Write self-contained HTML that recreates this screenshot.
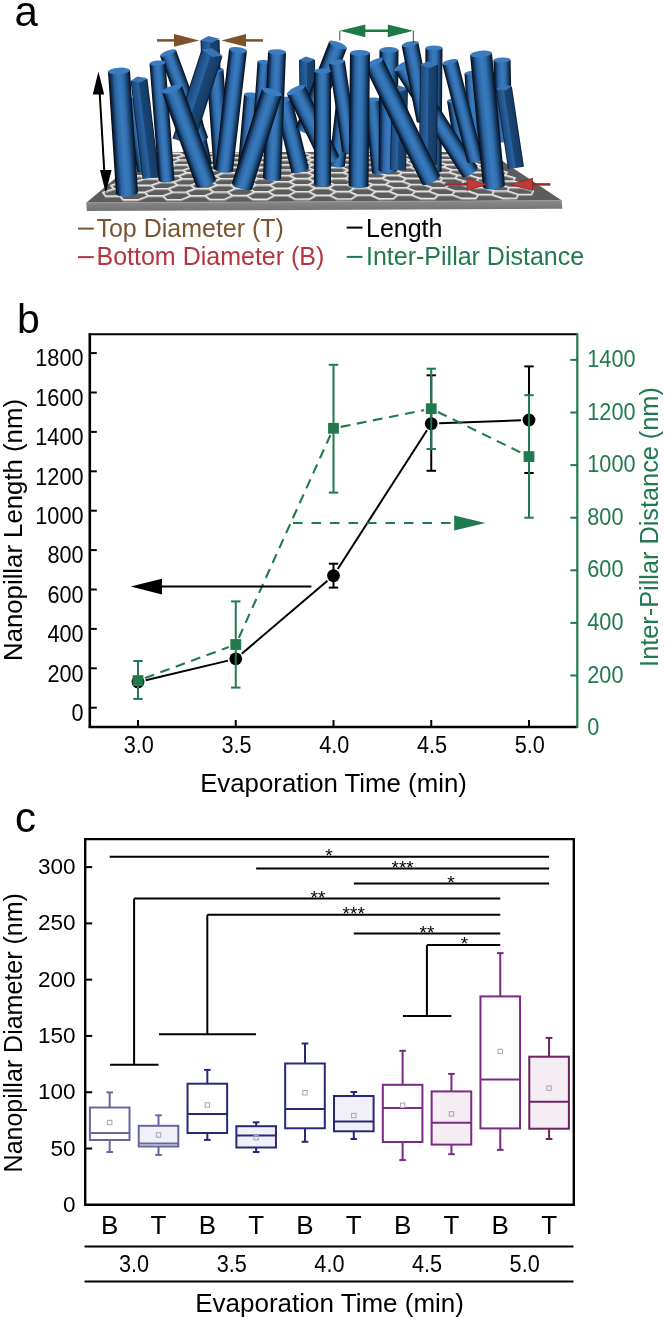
<!DOCTYPE html>
<html><head><meta charset="utf-8"><style>
html,body{margin:0;padding:0;background:#fff;}
svg{display:block;font-family:"Liberation Sans", sans-serif;will-change:transform;}
</style></head><body>
<svg width="666" height="1320" viewBox="0 0 666 1320">
<rect width="666" height="1320" fill="#fff"/>
<defs>
<linearGradient id="cyl" x1="0" y1="0" x2="1" y2="0">
 <stop offset="0" stop-color="#02060c"/>
 <stop offset="0.1" stop-color="#0e2a4a"/>
 <stop offset="0.26" stop-color="#2a63a1"/>
 <stop offset="0.48" stop-color="#3a7bbd"/>
 <stop offset="0.66" stop-color="#3170b0"/>
 <stop offset="0.83" stop-color="#1a4572"/>
 <stop offset="0.94" stop-color="#0b2038"/>
 <stop offset="1" stop-color="#050e1a"/>
</linearGradient>
<linearGradient id="prism" x1="0" y1="0" x2="1" y2="0">
 <stop offset="0" stop-color="#06101e"/>
 <stop offset="0.08" stop-color="#1b4a7e"/>
 <stop offset="0.45" stop-color="#2b64a2"/>
 <stop offset="0.5" stop-color="#1a4677"/>
 <stop offset="0.9" stop-color="#163c66"/>
 <stop offset="1" stop-color="#081a30"/>
</linearGradient>
<linearGradient id="front" x1="0" y1="0" x2="0" y2="1">
 <stop offset="0" stop-color="#8a8a8a"/>
 <stop offset="1" stop-color="#727272"/>
</linearGradient>
<pattern id="hex" patternUnits="userSpaceOnUse" width="30" height="10.4" patternTransform="translate(100,200)">
 <path d="M0,5.2 L5,0 L15,0 L20,5.2 L15,10.4 L5,10.4 Z M20,5.2 L30,5.2" fill="none" stroke="#d6d6d6" stroke-width="1.6"/>
</pattern>
</defs>
<clipPath id="platclip"><polygon points="86.3,202.8 561.8,200.6 489,152 146.5,152"/></clipPath>
<polygon points="86.3,202.8 561.8,200.6 489,152 146.5,152" fill="#5c5c5c"/>
<g clip-path="url(#platclip)"><path d="M102.9,192.3 L105.7,196.0 L120.0,196.0 L130.8,192.2 L127.5,188.7 L113.9,188.7Z M111.0,185.3 L113.9,188.7 L127.5,188.7 L137.8,185.2 L134.5,182.0 L121.4,182.0Z M118.5,178.9 L121.4,182.0 L134.5,182.0 L144.1,178.8 L140.9,175.8 L128.3,175.9Z M125.4,173.0 L128.3,175.9 L140.9,175.8 L150.0,172.9 L146.8,170.1 L134.7,170.1Z M131.7,167.5 L134.7,170.1 L146.8,170.1 L155.5,167.4 L152.2,164.8 L140.6,164.9Z M137.7,162.4 L140.6,164.9 L152.2,164.8 L160.5,162.3 L157.3,159.9 L146.1,159.9Z M143.2,157.6 L146.1,159.9 L157.3,159.9 L165.3,157.6 L162.1,155.3 L151.2,155.3Z M120.0,196.0 L123.3,199.8 L137.8,199.8 L148.4,195.8 L144.7,192.2 L130.8,192.2Z M127.5,188.7 L130.8,192.2 L144.7,192.2 L154.8,188.6 L151.1,185.2 L137.8,185.2Z M134.5,182.0 L137.8,185.2 L151.1,185.2 L160.6,181.9 L156.9,178.8 L144.1,178.8Z M140.9,175.8 L144.1,178.8 L156.9,178.8 L165.9,175.8 L162.3,172.9 L150.0,172.9Z M146.8,170.1 L150.0,172.9 L162.3,172.9 L170.9,170.1 L167.3,167.4 L155.5,167.4Z M152.2,164.8 L155.5,167.4 L167.3,167.4 L175.5,164.8 L171.9,162.3 L160.5,162.3Z M157.3,159.9 L160.5,162.3 L171.9,162.3 L179.7,159.9 L176.3,157.6 L165.3,157.6Z M162.1,155.3 L165.3,157.6 L176.3,157.6 L183.7,155.3 L180.3,153.2 L169.7,153.2Z M144.7,192.2 L148.4,195.8 L162.6,195.8 L172.4,192.1 L168.3,188.5 L154.8,188.6Z M151.1,185.2 L154.8,188.6 L168.3,188.5 L177.6,185.1 L173.6,181.9 L160.6,181.9Z M156.9,178.8 L160.6,181.9 L173.6,181.9 L182.4,178.7 L178.4,175.7 L165.9,175.8Z M162.3,172.9 L165.9,175.8 L178.4,175.7 L186.8,172.8 L182.9,170.1 L170.9,170.1Z M167.3,167.4 L170.9,170.1 L182.9,170.1 L190.9,167.4 L187.0,164.8 L175.5,164.8Z M171.9,162.3 L175.5,164.8 L187.0,164.8 L194.7,162.3 L190.9,159.9 L179.7,159.9Z M176.3,157.6 L179.7,159.9 L190.9,159.9 L198.2,157.6 L194.5,155.3 L183.7,155.3Z M162.6,195.8 L166.8,199.6 L181.2,199.6 L190.8,195.7 L186.2,192.0 L172.4,192.1Z M168.3,188.5 L172.4,192.1 L186.2,192.0 L195.3,188.5 L190.8,185.1 L177.6,185.1Z M173.6,181.9 L177.6,185.1 L190.8,185.1 L199.5,181.8 L195.1,178.7 L182.4,178.7Z M178.4,175.7 L182.4,178.7 L195.1,178.7 L203.3,175.7 L199.0,172.8 L186.8,172.8Z M182.9,170.1 L186.8,172.8 L199.0,172.8 L206.8,170.0 L202.6,167.4 L190.9,167.4Z M187.0,164.8 L190.9,167.4 L202.6,167.4 L210.1,164.8 L206.0,162.3 L194.7,162.3Z M190.9,159.9 L194.7,162.3 L206.0,162.3 L213.2,159.9 L209.2,157.6 L198.2,157.6Z M194.5,155.3 L198.2,157.6 L209.2,157.6 L216.0,155.3 L212.1,153.2 L201.5,153.2Z M186.2,192.0 L190.8,195.7 L204.9,195.6 L213.7,191.9 L208.8,188.4 L195.3,188.5Z M190.8,185.1 L195.3,188.5 L208.8,188.4 L217.2,185.0 L212.4,181.8 L199.5,181.8Z M195.1,178.7 L199.5,181.8 L212.4,181.8 L220.4,178.6 L215.7,175.7 L203.3,175.7Z M199.0,172.8 L203.3,175.7 L215.7,175.7 L223.3,172.8 L218.8,170.0 L206.8,170.0Z M202.6,167.4 L206.8,170.0 L218.8,170.0 L226.1,167.3 L221.6,164.8 L210.1,164.8Z M206.0,162.3 L210.1,164.8 L221.6,164.8 L228.6,162.3 L224.3,159.9 L213.2,159.9Z M209.2,157.6 L213.2,159.9 L224.3,159.9 L231.0,157.6 L226.7,155.3 L216.0,155.3Z M204.9,195.6 L210.0,199.4 L224.3,199.4 L232.9,195.5 L227.4,191.9 L213.7,191.9Z M208.8,188.4 L213.7,191.9 L227.4,191.9 L235.6,188.3 L230.3,185.0 L217.2,185.0Z M212.4,181.8 L217.2,185.0 L230.3,185.0 L238.1,181.7 L233.0,178.6 L220.4,178.6Z M215.7,175.7 L220.4,178.6 L233.0,178.6 L240.4,175.6 L235.5,172.7 L223.3,172.8Z M218.8,170.0 L223.3,172.8 L235.5,172.7 L242.6,170.0 L237.7,167.3 L226.1,167.3Z M221.6,164.8 L226.1,167.3 L237.7,167.3 L244.5,164.7 L239.9,162.3 L228.6,162.3Z M224.3,159.9 L228.6,162.3 L239.9,162.3 L246.4,159.9 L241.8,157.5 L231.0,157.6Z M226.7,155.3 L231.0,157.6 L241.8,157.5 L248.1,155.3 L243.7,153.1 L233.2,153.1Z M227.4,191.9 L232.9,195.5 L246.8,195.5 L254.7,191.8 L248.9,188.3 L235.6,188.3Z M230.3,185.0 L235.6,188.3 L248.9,188.3 L256.5,184.9 L250.9,181.7 L238.1,181.7Z M233.0,178.6 L238.1,181.7 L250.9,181.7 L258.1,178.6 L252.7,175.6 L240.4,175.6Z M235.5,172.7 L240.4,175.6 L252.7,175.6 L259.6,172.7 L254.4,169.9 L242.6,170.0Z M237.7,167.3 L242.6,170.0 L254.4,169.9 L261.0,167.3 L256.0,164.7 L244.5,164.7Z M239.9,162.3 L244.5,164.7 L256.0,164.7 L262.3,162.2 L257.4,159.8 L246.4,159.9Z M241.8,157.5 L246.4,159.9 L257.4,159.8 L263.5,157.5 L258.8,155.3 L248.1,155.3Z M246.8,195.5 L252.8,199.3 L267.0,199.2 L274.6,195.3 L268.3,191.7 L254.7,191.8Z M248.9,188.3 L254.7,191.8 L268.3,191.7 L275.6,188.2 L269.5,184.8 L256.5,184.9Z M250.9,181.7 L256.5,184.9 L269.5,184.8 L276.5,181.6 L270.6,178.5 L258.1,178.6Z M252.7,175.6 L258.1,178.6 L270.6,178.5 L277.3,175.5 L271.7,172.7 L259.6,172.7Z M254.4,169.9 L259.6,172.7 L271.7,172.7 L278.0,169.9 L272.6,167.3 L261.0,167.3Z M256.0,164.7 L261.0,167.3 L272.6,167.3 L278.7,164.7 L273.5,162.2 L262.3,162.2Z M257.4,159.8 L262.3,162.2 L273.5,162.2 L279.4,159.8 L274.3,157.5 L263.5,157.5Z M258.8,155.3 L263.5,157.5 L274.3,157.5 L280.0,155.3 L275.1,153.1 L264.6,153.1Z M268.3,191.7 L274.6,195.3 L288.4,195.3 L295.4,191.6 L288.8,188.1 L275.6,188.2Z M269.5,184.8 L275.6,188.2 L288.8,188.1 L295.5,184.8 L289.2,181.6 L276.5,181.6Z M270.6,178.5 L276.5,181.6 L289.2,181.6 L295.6,178.5 L289.5,175.5 L277.3,175.5Z M271.7,172.7 L277.3,175.5 L289.5,175.5 L295.7,172.6 L289.8,169.9 L278.0,169.9Z M272.6,167.3 L278.0,169.9 L289.8,169.9 L295.7,167.2 L290.1,164.7 L278.7,164.7Z M273.5,162.2 L278.7,164.7 L290.1,164.7 L295.8,162.2 L290.4,159.8 L279.4,159.8Z M274.3,157.5 L279.4,159.8 L290.4,159.8 L295.9,157.5 L290.6,155.3 L280.0,155.3Z M288.4,195.3 L295.3,199.1 L309.4,199.0 L316.0,195.2 L308.9,191.6 L295.4,191.6Z M288.8,188.1 L295.4,191.6 L308.9,191.6 L315.2,188.0 L308.4,184.7 L295.5,184.8Z M289.2,181.6 L295.5,184.8 L308.4,184.7 L314.5,181.5 L308.0,178.4 L295.6,178.5Z M289.5,175.5 L295.6,178.5 L308.0,178.4 L313.9,175.4 L307.6,172.6 L295.7,172.6Z M289.8,169.9 L295.7,172.6 L307.6,172.6 L313.3,169.8 L307.3,167.2 L295.7,167.2Z M290.1,164.7 L295.7,167.2 L307.3,167.2 L312.7,164.6 L306.9,162.2 L295.8,162.2Z M290.4,159.8 L295.8,162.2 L306.9,162.2 L312.2,159.8 L306.6,157.5 L295.9,157.5Z M290.6,155.3 L295.9,157.5 L306.6,157.5 L311.7,155.3 L306.3,153.1 L295.9,153.1Z M308.9,191.6 L316.0,195.2 L329.7,195.1 L335.8,191.5 L328.4,188.0 L315.2,188.0Z M308.4,184.7 L315.2,188.0 L328.4,188.0 L334.2,184.6 L327.2,181.5 L314.5,181.5Z M308.0,178.4 L314.5,181.5 L327.2,181.5 L332.8,178.4 L326.0,175.4 L313.9,175.4Z M307.6,172.6 L313.9,175.4 L326.0,175.4 L331.5,172.6 L325.0,169.8 L313.3,169.8Z M307.3,167.2 L313.3,169.8 L325.0,169.8 L330.2,167.2 L324.0,164.6 L312.7,164.6Z M306.9,162.2 L312.7,164.6 L324.0,164.6 L329.1,162.2 L323.1,159.8 L312.2,159.8Z M306.6,157.5 L312.2,159.8 L323.1,159.8 L328.0,157.5 L322.3,155.3 L311.7,155.3Z M329.7,195.1 L337.4,198.9 L351.4,198.8 L357.1,195.0 L349.2,191.4 L335.8,191.5Z M328.4,188.0 L335.8,191.5 L349.2,191.4 L354.6,187.9 L347.1,184.6 L334.2,184.6Z M327.2,181.5 L334.2,184.6 L347.1,184.6 L352.4,181.4 L345.1,178.3 L332.8,178.4Z M326.0,175.4 L332.8,178.4 L345.1,178.3 L350.3,175.4 L343.3,172.5 L331.5,172.6Z M325.0,169.8 L331.5,172.6 L343.3,172.5 L348.3,169.8 L341.7,167.2 L330.2,167.2Z M324.0,164.6 L330.2,167.2 L341.7,167.2 L346.5,164.6 L340.2,162.2 L329.1,162.2Z M323.1,159.8 L329.1,162.2 L340.2,162.2 L344.8,159.8 L338.7,157.5 L328.0,157.5Z M322.3,155.3 L328.0,157.5 L338.7,157.5 L343.3,155.3 L337.4,153.1 L327.1,153.1Z M349.2,191.4 L357.1,195.0 L370.7,195.0 L375.8,191.3 L367.7,187.9 L354.6,187.9Z M347.1,184.6 L354.6,187.9 L367.7,187.9 L372.7,184.5 L364.9,181.4 L352.4,181.4Z M345.1,178.3 L352.4,181.4 L364.9,181.4 L369.7,178.3 L362.3,175.3 L350.3,175.4Z M343.3,172.5 L350.3,175.4 L362.3,175.3 L367.0,172.5 L360.0,169.8 L348.3,169.8Z M341.7,167.2 L348.3,169.8 L360.0,169.8 L364.5,167.1 L357.7,164.6 L346.5,164.6Z M340.2,162.2 L346.5,164.6 L357.7,164.6 L362.2,162.1 L355.7,159.8 L344.8,159.8Z M338.7,157.5 L344.8,159.8 L355.7,159.8 L360.0,157.5 L353.8,155.3 L343.3,155.3Z M370.7,195.0 L379.3,198.7 L393.2,198.6 L397.9,194.8 L389.1,191.3 L375.8,191.3Z M367.7,187.9 L375.8,191.3 L389.1,191.3 L393.7,187.8 L385.4,184.5 L372.7,184.5Z M364.9,181.4 L372.7,184.5 L385.4,184.5 L389.9,181.3 L382.0,178.2 L369.7,178.3Z M362.3,175.3 L369.7,178.3 L382.0,178.2 L386.4,175.3 L378.8,172.5 L367.0,172.5Z M360.0,169.8 L367.0,172.5 L378.8,172.5 L383.1,169.7 L375.9,167.1 L364.5,167.1Z M357.7,164.6 L364.5,167.1 L375.9,167.1 L380.1,164.6 L373.2,162.1 L362.2,162.1Z M355.7,159.8 L362.2,162.1 L373.2,162.1 L377.3,159.8 L370.6,157.5 L360.0,157.5Z M353.8,155.3 L360.0,157.5 L370.6,157.5 L374.6,155.3 L368.3,153.1 L358.0,153.1Z M389.1,191.3 L397.9,194.8 L411.4,194.8 L415.6,191.2 L406.7,187.7 L393.7,187.8Z M385.4,184.5 L393.7,187.8 L406.7,187.7 L410.8,184.4 L402.4,181.3 L389.9,181.3Z M382.0,178.2 L389.9,181.3 L402.4,181.3 L406.4,178.2 L398.4,175.3 L386.4,175.3Z M378.8,172.5 L386.4,175.3 L398.4,175.3 L402.4,172.4 L394.7,169.7 L383.1,169.7Z M375.9,167.1 L383.1,169.7 L394.7,169.7 L398.6,167.1 L391.2,164.6 L380.1,164.6Z M373.2,162.1 L380.1,164.6 L391.2,164.6 L395.1,162.1 L388.0,159.8 L377.3,159.8Z M370.6,157.5 L377.3,159.8 L388.0,159.8 L391.8,157.5 L385.0,155.3 L374.6,155.3Z M411.4,194.8 L420.8,198.5 L434.6,198.5 L438.3,194.7 L428.8,191.1 L415.6,191.2Z M406.7,187.7 L415.6,191.2 L428.8,191.1 L432.5,187.7 L423.5,184.4 L410.8,184.4Z M402.4,181.3 L410.8,184.4 L423.5,184.4 L427.2,181.2 L418.6,178.2 L406.4,178.2Z M398.4,175.3 L406.4,178.2 L418.6,178.2 L422.3,175.2 L414.1,172.4 L402.4,172.4Z M394.7,169.7 L402.4,172.4 L414.1,172.4 L417.7,169.7 L409.9,167.1 L398.6,167.1Z M391.2,164.6 L398.6,167.1 L409.9,167.1 L413.5,164.5 L406.0,162.1 L395.1,162.1Z M388.0,159.8 L395.1,162.1 L406.0,162.1 L409.5,159.7 L402.4,157.5 L391.8,157.5Z M385.0,155.3 L391.8,157.5 L402.4,157.5 L405.8,155.3 L399.0,153.1 L388.7,153.1Z M428.8,191.1 L438.3,194.7 L451.8,194.6 L455.1,191.0 L445.4,187.6 L432.5,187.7Z M423.5,184.4 L432.5,187.7 L445.4,187.6 L448.7,184.3 L439.6,181.2 L427.2,181.2Z M418.6,178.2 L427.2,181.2 L439.6,181.2 L442.9,178.1 L434.2,175.2 L422.3,175.2Z M414.1,172.4 L422.3,175.2 L434.2,175.2 L437.5,172.4 L429.2,169.7 L417.7,169.7Z M409.9,167.1 L417.7,169.7 L429.2,169.7 L432.4,167.0 L424.5,164.5 L413.5,164.5Z M406.0,162.1 L413.5,164.5 L424.5,164.5 L427.8,162.1 L420.2,159.7 L409.5,159.7Z M402.4,157.5 L409.5,159.7 L420.2,159.7 L423.4,157.5 L416.2,155.3 L405.8,155.3Z M451.8,194.6 L462.0,198.3 L475.6,198.3 L478.5,194.5 L468.2,191.0 L455.1,191.0Z M445.4,187.6 L455.1,191.0 L468.2,191.0 L471.1,187.5 L461.3,184.3 L448.7,184.3Z M439.6,181.2 L448.7,184.3 L461.3,184.3 L464.2,181.1 L455.0,178.1 L442.9,178.1Z M434.2,175.2 L442.9,178.1 L455.0,178.1 L457.9,175.1 L449.1,172.3 L437.5,172.4Z M429.2,169.7 L437.5,172.4 L449.1,172.3 L452.1,169.6 L443.7,167.0 L432.4,167.0Z M424.5,164.5 L432.4,167.0 L443.7,167.0 L446.6,164.5 L438.6,162.1 L427.8,162.1Z M420.2,159.7 L427.8,162.1 L438.6,162.1 L441.5,159.7 L433.9,157.4 L423.4,157.5Z M416.2,155.3 L423.4,157.5 L433.9,157.4 L436.8,155.3 L429.5,153.1 L419.3,153.1Z M468.2,191.0 L478.5,194.5 L491.8,194.5 L494.3,190.9 L483.9,187.5 L471.1,187.5Z M461.3,184.3 L471.1,187.5 L483.9,187.5 L486.4,184.2 L476.5,181.1 L464.2,181.1Z M455.0,178.1 L464.2,181.1 L476.5,181.1 L479.1,178.0 L469.7,175.1 L457.9,175.1Z M449.1,172.3 L457.9,175.1 L469.7,175.1 L472.3,172.3 L463.5,169.6 L452.1,169.6Z M443.7,167.0 L452.1,169.6 L463.5,169.6 L466.1,167.0 L457.6,164.5 L446.6,164.5Z M438.6,162.1 L446.6,164.5 L457.6,164.5 L460.2,162.0 L452.2,159.7 L441.5,159.7Z M433.9,157.4 L441.5,159.7 L452.2,159.7 L454.8,157.4 L447.1,155.2 L436.8,155.3Z M491.8,194.5 L502.9,198.2 L516.4,198.1 L518.4,194.4 L507.3,190.8 L494.3,190.9Z M483.9,187.5 L494.3,190.9 L507.3,190.8 L509.3,187.4 L498.9,184.1 L486.4,184.2Z M476.5,181.1 L486.4,184.2 L498.9,184.1 L501.0,181.0 L491.1,178.0 L479.1,178.0Z M469.7,175.1 L479.1,178.0 L491.1,178.0 L493.3,175.1 L483.9,172.3 L472.3,172.3Z M463.5,169.6 L472.3,172.3 L483.9,172.3 L486.2,169.6 L477.2,167.0 L466.1,167.0Z M457.6,164.5 L466.1,167.0 L477.2,167.0 L479.6,164.5 L471.0,162.0 L460.2,162.0Z M452.2,159.7 L460.2,162.0 L471.0,162.0 L473.4,159.7 L465.2,157.4 L454.8,157.4Z M447.1,155.2 L454.8,157.4 L465.2,157.4 L467.6,155.2 L459.8,153.1 L449.7,153.1Z M507.3,190.8 L518.4,194.4 L531.6,194.3 L533.2,190.7 L522.0,187.4 L509.3,187.4Z M498.9,184.1 L509.3,187.4 L522.0,187.4 L523.7,184.1 L513.2,181.0 L501.0,181.0Z M491.1,178.0 L501.0,181.0 L513.2,181.0 L515.0,177.9 L505.1,175.0 L493.3,175.1Z M483.9,172.3 L493.3,175.1 L505.1,175.0 L507.0,172.2 L497.5,169.5 L486.2,169.6Z M477.2,167.0 L486.2,169.6 L497.5,169.5 L499.5,166.9 L490.5,164.4 L479.6,164.5Z M471.0,162.0 L479.6,164.5 L490.5,164.4 L492.5,162.0 L483.9,159.7 L473.4,159.7Z M465.2,157.4 L473.4,159.7 L483.9,159.7 L486.0,157.4 L477.8,155.2 L467.6,155.2Z" fill="none" stroke="#9a9a9a" stroke-width="1.7" transform="translate(0,0.9)"/><path d="M102.9,192.3 L105.7,196.0 L120.0,196.0 L130.8,192.2 L127.5,188.7 L113.9,188.7Z M111.0,185.3 L113.9,188.7 L127.5,188.7 L137.8,185.2 L134.5,182.0 L121.4,182.0Z M118.5,178.9 L121.4,182.0 L134.5,182.0 L144.1,178.8 L140.9,175.8 L128.3,175.9Z M125.4,173.0 L128.3,175.9 L140.9,175.8 L150.0,172.9 L146.8,170.1 L134.7,170.1Z M131.7,167.5 L134.7,170.1 L146.8,170.1 L155.5,167.4 L152.2,164.8 L140.6,164.9Z M137.7,162.4 L140.6,164.9 L152.2,164.8 L160.5,162.3 L157.3,159.9 L146.1,159.9Z M143.2,157.6 L146.1,159.9 L157.3,159.9 L165.3,157.6 L162.1,155.3 L151.2,155.3Z M120.0,196.0 L123.3,199.8 L137.8,199.8 L148.4,195.8 L144.7,192.2 L130.8,192.2Z M127.5,188.7 L130.8,192.2 L144.7,192.2 L154.8,188.6 L151.1,185.2 L137.8,185.2Z M134.5,182.0 L137.8,185.2 L151.1,185.2 L160.6,181.9 L156.9,178.8 L144.1,178.8Z M140.9,175.8 L144.1,178.8 L156.9,178.8 L165.9,175.8 L162.3,172.9 L150.0,172.9Z M146.8,170.1 L150.0,172.9 L162.3,172.9 L170.9,170.1 L167.3,167.4 L155.5,167.4Z M152.2,164.8 L155.5,167.4 L167.3,167.4 L175.5,164.8 L171.9,162.3 L160.5,162.3Z M157.3,159.9 L160.5,162.3 L171.9,162.3 L179.7,159.9 L176.3,157.6 L165.3,157.6Z M162.1,155.3 L165.3,157.6 L176.3,157.6 L183.7,155.3 L180.3,153.2 L169.7,153.2Z M144.7,192.2 L148.4,195.8 L162.6,195.8 L172.4,192.1 L168.3,188.5 L154.8,188.6Z M151.1,185.2 L154.8,188.6 L168.3,188.5 L177.6,185.1 L173.6,181.9 L160.6,181.9Z M156.9,178.8 L160.6,181.9 L173.6,181.9 L182.4,178.7 L178.4,175.7 L165.9,175.8Z M162.3,172.9 L165.9,175.8 L178.4,175.7 L186.8,172.8 L182.9,170.1 L170.9,170.1Z M167.3,167.4 L170.9,170.1 L182.9,170.1 L190.9,167.4 L187.0,164.8 L175.5,164.8Z M171.9,162.3 L175.5,164.8 L187.0,164.8 L194.7,162.3 L190.9,159.9 L179.7,159.9Z M176.3,157.6 L179.7,159.9 L190.9,159.9 L198.2,157.6 L194.5,155.3 L183.7,155.3Z M162.6,195.8 L166.8,199.6 L181.2,199.6 L190.8,195.7 L186.2,192.0 L172.4,192.1Z M168.3,188.5 L172.4,192.1 L186.2,192.0 L195.3,188.5 L190.8,185.1 L177.6,185.1Z M173.6,181.9 L177.6,185.1 L190.8,185.1 L199.5,181.8 L195.1,178.7 L182.4,178.7Z M178.4,175.7 L182.4,178.7 L195.1,178.7 L203.3,175.7 L199.0,172.8 L186.8,172.8Z M182.9,170.1 L186.8,172.8 L199.0,172.8 L206.8,170.0 L202.6,167.4 L190.9,167.4Z M187.0,164.8 L190.9,167.4 L202.6,167.4 L210.1,164.8 L206.0,162.3 L194.7,162.3Z M190.9,159.9 L194.7,162.3 L206.0,162.3 L213.2,159.9 L209.2,157.6 L198.2,157.6Z M194.5,155.3 L198.2,157.6 L209.2,157.6 L216.0,155.3 L212.1,153.2 L201.5,153.2Z M186.2,192.0 L190.8,195.7 L204.9,195.6 L213.7,191.9 L208.8,188.4 L195.3,188.5Z M190.8,185.1 L195.3,188.5 L208.8,188.4 L217.2,185.0 L212.4,181.8 L199.5,181.8Z M195.1,178.7 L199.5,181.8 L212.4,181.8 L220.4,178.6 L215.7,175.7 L203.3,175.7Z M199.0,172.8 L203.3,175.7 L215.7,175.7 L223.3,172.8 L218.8,170.0 L206.8,170.0Z M202.6,167.4 L206.8,170.0 L218.8,170.0 L226.1,167.3 L221.6,164.8 L210.1,164.8Z M206.0,162.3 L210.1,164.8 L221.6,164.8 L228.6,162.3 L224.3,159.9 L213.2,159.9Z M209.2,157.6 L213.2,159.9 L224.3,159.9 L231.0,157.6 L226.7,155.3 L216.0,155.3Z M204.9,195.6 L210.0,199.4 L224.3,199.4 L232.9,195.5 L227.4,191.9 L213.7,191.9Z M208.8,188.4 L213.7,191.9 L227.4,191.9 L235.6,188.3 L230.3,185.0 L217.2,185.0Z M212.4,181.8 L217.2,185.0 L230.3,185.0 L238.1,181.7 L233.0,178.6 L220.4,178.6Z M215.7,175.7 L220.4,178.6 L233.0,178.6 L240.4,175.6 L235.5,172.7 L223.3,172.8Z M218.8,170.0 L223.3,172.8 L235.5,172.7 L242.6,170.0 L237.7,167.3 L226.1,167.3Z M221.6,164.8 L226.1,167.3 L237.7,167.3 L244.5,164.7 L239.9,162.3 L228.6,162.3Z M224.3,159.9 L228.6,162.3 L239.9,162.3 L246.4,159.9 L241.8,157.5 L231.0,157.6Z M226.7,155.3 L231.0,157.6 L241.8,157.5 L248.1,155.3 L243.7,153.1 L233.2,153.1Z M227.4,191.9 L232.9,195.5 L246.8,195.5 L254.7,191.8 L248.9,188.3 L235.6,188.3Z M230.3,185.0 L235.6,188.3 L248.9,188.3 L256.5,184.9 L250.9,181.7 L238.1,181.7Z M233.0,178.6 L238.1,181.7 L250.9,181.7 L258.1,178.6 L252.7,175.6 L240.4,175.6Z M235.5,172.7 L240.4,175.6 L252.7,175.6 L259.6,172.7 L254.4,169.9 L242.6,170.0Z M237.7,167.3 L242.6,170.0 L254.4,169.9 L261.0,167.3 L256.0,164.7 L244.5,164.7Z M239.9,162.3 L244.5,164.7 L256.0,164.7 L262.3,162.2 L257.4,159.8 L246.4,159.9Z M241.8,157.5 L246.4,159.9 L257.4,159.8 L263.5,157.5 L258.8,155.3 L248.1,155.3Z M246.8,195.5 L252.8,199.3 L267.0,199.2 L274.6,195.3 L268.3,191.7 L254.7,191.8Z M248.9,188.3 L254.7,191.8 L268.3,191.7 L275.6,188.2 L269.5,184.8 L256.5,184.9Z M250.9,181.7 L256.5,184.9 L269.5,184.8 L276.5,181.6 L270.6,178.5 L258.1,178.6Z M252.7,175.6 L258.1,178.6 L270.6,178.5 L277.3,175.5 L271.7,172.7 L259.6,172.7Z M254.4,169.9 L259.6,172.7 L271.7,172.7 L278.0,169.9 L272.6,167.3 L261.0,167.3Z M256.0,164.7 L261.0,167.3 L272.6,167.3 L278.7,164.7 L273.5,162.2 L262.3,162.2Z M257.4,159.8 L262.3,162.2 L273.5,162.2 L279.4,159.8 L274.3,157.5 L263.5,157.5Z M258.8,155.3 L263.5,157.5 L274.3,157.5 L280.0,155.3 L275.1,153.1 L264.6,153.1Z M268.3,191.7 L274.6,195.3 L288.4,195.3 L295.4,191.6 L288.8,188.1 L275.6,188.2Z M269.5,184.8 L275.6,188.2 L288.8,188.1 L295.5,184.8 L289.2,181.6 L276.5,181.6Z M270.6,178.5 L276.5,181.6 L289.2,181.6 L295.6,178.5 L289.5,175.5 L277.3,175.5Z M271.7,172.7 L277.3,175.5 L289.5,175.5 L295.7,172.6 L289.8,169.9 L278.0,169.9Z M272.6,167.3 L278.0,169.9 L289.8,169.9 L295.7,167.2 L290.1,164.7 L278.7,164.7Z M273.5,162.2 L278.7,164.7 L290.1,164.7 L295.8,162.2 L290.4,159.8 L279.4,159.8Z M274.3,157.5 L279.4,159.8 L290.4,159.8 L295.9,157.5 L290.6,155.3 L280.0,155.3Z M288.4,195.3 L295.3,199.1 L309.4,199.0 L316.0,195.2 L308.9,191.6 L295.4,191.6Z M288.8,188.1 L295.4,191.6 L308.9,191.6 L315.2,188.0 L308.4,184.7 L295.5,184.8Z M289.2,181.6 L295.5,184.8 L308.4,184.7 L314.5,181.5 L308.0,178.4 L295.6,178.5Z M289.5,175.5 L295.6,178.5 L308.0,178.4 L313.9,175.4 L307.6,172.6 L295.7,172.6Z M289.8,169.9 L295.7,172.6 L307.6,172.6 L313.3,169.8 L307.3,167.2 L295.7,167.2Z M290.1,164.7 L295.7,167.2 L307.3,167.2 L312.7,164.6 L306.9,162.2 L295.8,162.2Z M290.4,159.8 L295.8,162.2 L306.9,162.2 L312.2,159.8 L306.6,157.5 L295.9,157.5Z M290.6,155.3 L295.9,157.5 L306.6,157.5 L311.7,155.3 L306.3,153.1 L295.9,153.1Z M308.9,191.6 L316.0,195.2 L329.7,195.1 L335.8,191.5 L328.4,188.0 L315.2,188.0Z M308.4,184.7 L315.2,188.0 L328.4,188.0 L334.2,184.6 L327.2,181.5 L314.5,181.5Z M308.0,178.4 L314.5,181.5 L327.2,181.5 L332.8,178.4 L326.0,175.4 L313.9,175.4Z M307.6,172.6 L313.9,175.4 L326.0,175.4 L331.5,172.6 L325.0,169.8 L313.3,169.8Z M307.3,167.2 L313.3,169.8 L325.0,169.8 L330.2,167.2 L324.0,164.6 L312.7,164.6Z M306.9,162.2 L312.7,164.6 L324.0,164.6 L329.1,162.2 L323.1,159.8 L312.2,159.8Z M306.6,157.5 L312.2,159.8 L323.1,159.8 L328.0,157.5 L322.3,155.3 L311.7,155.3Z M329.7,195.1 L337.4,198.9 L351.4,198.8 L357.1,195.0 L349.2,191.4 L335.8,191.5Z M328.4,188.0 L335.8,191.5 L349.2,191.4 L354.6,187.9 L347.1,184.6 L334.2,184.6Z M327.2,181.5 L334.2,184.6 L347.1,184.6 L352.4,181.4 L345.1,178.3 L332.8,178.4Z M326.0,175.4 L332.8,178.4 L345.1,178.3 L350.3,175.4 L343.3,172.5 L331.5,172.6Z M325.0,169.8 L331.5,172.6 L343.3,172.5 L348.3,169.8 L341.7,167.2 L330.2,167.2Z M324.0,164.6 L330.2,167.2 L341.7,167.2 L346.5,164.6 L340.2,162.2 L329.1,162.2Z M323.1,159.8 L329.1,162.2 L340.2,162.2 L344.8,159.8 L338.7,157.5 L328.0,157.5Z M322.3,155.3 L328.0,157.5 L338.7,157.5 L343.3,155.3 L337.4,153.1 L327.1,153.1Z M349.2,191.4 L357.1,195.0 L370.7,195.0 L375.8,191.3 L367.7,187.9 L354.6,187.9Z M347.1,184.6 L354.6,187.9 L367.7,187.9 L372.7,184.5 L364.9,181.4 L352.4,181.4Z M345.1,178.3 L352.4,181.4 L364.9,181.4 L369.7,178.3 L362.3,175.3 L350.3,175.4Z M343.3,172.5 L350.3,175.4 L362.3,175.3 L367.0,172.5 L360.0,169.8 L348.3,169.8Z M341.7,167.2 L348.3,169.8 L360.0,169.8 L364.5,167.1 L357.7,164.6 L346.5,164.6Z M340.2,162.2 L346.5,164.6 L357.7,164.6 L362.2,162.1 L355.7,159.8 L344.8,159.8Z M338.7,157.5 L344.8,159.8 L355.7,159.8 L360.0,157.5 L353.8,155.3 L343.3,155.3Z M370.7,195.0 L379.3,198.7 L393.2,198.6 L397.9,194.8 L389.1,191.3 L375.8,191.3Z M367.7,187.9 L375.8,191.3 L389.1,191.3 L393.7,187.8 L385.4,184.5 L372.7,184.5Z M364.9,181.4 L372.7,184.5 L385.4,184.5 L389.9,181.3 L382.0,178.2 L369.7,178.3Z M362.3,175.3 L369.7,178.3 L382.0,178.2 L386.4,175.3 L378.8,172.5 L367.0,172.5Z M360.0,169.8 L367.0,172.5 L378.8,172.5 L383.1,169.7 L375.9,167.1 L364.5,167.1Z M357.7,164.6 L364.5,167.1 L375.9,167.1 L380.1,164.6 L373.2,162.1 L362.2,162.1Z M355.7,159.8 L362.2,162.1 L373.2,162.1 L377.3,159.8 L370.6,157.5 L360.0,157.5Z M353.8,155.3 L360.0,157.5 L370.6,157.5 L374.6,155.3 L368.3,153.1 L358.0,153.1Z M389.1,191.3 L397.9,194.8 L411.4,194.8 L415.6,191.2 L406.7,187.7 L393.7,187.8Z M385.4,184.5 L393.7,187.8 L406.7,187.7 L410.8,184.4 L402.4,181.3 L389.9,181.3Z M382.0,178.2 L389.9,181.3 L402.4,181.3 L406.4,178.2 L398.4,175.3 L386.4,175.3Z M378.8,172.5 L386.4,175.3 L398.4,175.3 L402.4,172.4 L394.7,169.7 L383.1,169.7Z M375.9,167.1 L383.1,169.7 L394.7,169.7 L398.6,167.1 L391.2,164.6 L380.1,164.6Z M373.2,162.1 L380.1,164.6 L391.2,164.6 L395.1,162.1 L388.0,159.8 L377.3,159.8Z M370.6,157.5 L377.3,159.8 L388.0,159.8 L391.8,157.5 L385.0,155.3 L374.6,155.3Z M411.4,194.8 L420.8,198.5 L434.6,198.5 L438.3,194.7 L428.8,191.1 L415.6,191.2Z M406.7,187.7 L415.6,191.2 L428.8,191.1 L432.5,187.7 L423.5,184.4 L410.8,184.4Z M402.4,181.3 L410.8,184.4 L423.5,184.4 L427.2,181.2 L418.6,178.2 L406.4,178.2Z M398.4,175.3 L406.4,178.2 L418.6,178.2 L422.3,175.2 L414.1,172.4 L402.4,172.4Z M394.7,169.7 L402.4,172.4 L414.1,172.4 L417.7,169.7 L409.9,167.1 L398.6,167.1Z M391.2,164.6 L398.6,167.1 L409.9,167.1 L413.5,164.5 L406.0,162.1 L395.1,162.1Z M388.0,159.8 L395.1,162.1 L406.0,162.1 L409.5,159.7 L402.4,157.5 L391.8,157.5Z M385.0,155.3 L391.8,157.5 L402.4,157.5 L405.8,155.3 L399.0,153.1 L388.7,153.1Z M428.8,191.1 L438.3,194.7 L451.8,194.6 L455.1,191.0 L445.4,187.6 L432.5,187.7Z M423.5,184.4 L432.5,187.7 L445.4,187.6 L448.7,184.3 L439.6,181.2 L427.2,181.2Z M418.6,178.2 L427.2,181.2 L439.6,181.2 L442.9,178.1 L434.2,175.2 L422.3,175.2Z M414.1,172.4 L422.3,175.2 L434.2,175.2 L437.5,172.4 L429.2,169.7 L417.7,169.7Z M409.9,167.1 L417.7,169.7 L429.2,169.7 L432.4,167.0 L424.5,164.5 L413.5,164.5Z M406.0,162.1 L413.5,164.5 L424.5,164.5 L427.8,162.1 L420.2,159.7 L409.5,159.7Z M402.4,157.5 L409.5,159.7 L420.2,159.7 L423.4,157.5 L416.2,155.3 L405.8,155.3Z M451.8,194.6 L462.0,198.3 L475.6,198.3 L478.5,194.5 L468.2,191.0 L455.1,191.0Z M445.4,187.6 L455.1,191.0 L468.2,191.0 L471.1,187.5 L461.3,184.3 L448.7,184.3Z M439.6,181.2 L448.7,184.3 L461.3,184.3 L464.2,181.1 L455.0,178.1 L442.9,178.1Z M434.2,175.2 L442.9,178.1 L455.0,178.1 L457.9,175.1 L449.1,172.3 L437.5,172.4Z M429.2,169.7 L437.5,172.4 L449.1,172.3 L452.1,169.6 L443.7,167.0 L432.4,167.0Z M424.5,164.5 L432.4,167.0 L443.7,167.0 L446.6,164.5 L438.6,162.1 L427.8,162.1Z M420.2,159.7 L427.8,162.1 L438.6,162.1 L441.5,159.7 L433.9,157.4 L423.4,157.5Z M416.2,155.3 L423.4,157.5 L433.9,157.4 L436.8,155.3 L429.5,153.1 L419.3,153.1Z M468.2,191.0 L478.5,194.5 L491.8,194.5 L494.3,190.9 L483.9,187.5 L471.1,187.5Z M461.3,184.3 L471.1,187.5 L483.9,187.5 L486.4,184.2 L476.5,181.1 L464.2,181.1Z M455.0,178.1 L464.2,181.1 L476.5,181.1 L479.1,178.0 L469.7,175.1 L457.9,175.1Z M449.1,172.3 L457.9,175.1 L469.7,175.1 L472.3,172.3 L463.5,169.6 L452.1,169.6Z M443.7,167.0 L452.1,169.6 L463.5,169.6 L466.1,167.0 L457.6,164.5 L446.6,164.5Z M438.6,162.1 L446.6,164.5 L457.6,164.5 L460.2,162.0 L452.2,159.7 L441.5,159.7Z M433.9,157.4 L441.5,159.7 L452.2,159.7 L454.8,157.4 L447.1,155.2 L436.8,155.3Z M491.8,194.5 L502.9,198.2 L516.4,198.1 L518.4,194.4 L507.3,190.8 L494.3,190.9Z M483.9,187.5 L494.3,190.9 L507.3,190.8 L509.3,187.4 L498.9,184.1 L486.4,184.2Z M476.5,181.1 L486.4,184.2 L498.9,184.1 L501.0,181.0 L491.1,178.0 L479.1,178.0Z M469.7,175.1 L479.1,178.0 L491.1,178.0 L493.3,175.1 L483.9,172.3 L472.3,172.3Z M463.5,169.6 L472.3,172.3 L483.9,172.3 L486.2,169.6 L477.2,167.0 L466.1,167.0Z M457.6,164.5 L466.1,167.0 L477.2,167.0 L479.6,164.5 L471.0,162.0 L460.2,162.0Z M452.2,159.7 L460.2,162.0 L471.0,162.0 L473.4,159.7 L465.2,157.4 L454.8,157.4Z M447.1,155.2 L454.8,157.4 L465.2,157.4 L467.6,155.2 L459.8,153.1 L449.7,153.1Z M507.3,190.8 L518.4,194.4 L531.6,194.3 L533.2,190.7 L522.0,187.4 L509.3,187.4Z M498.9,184.1 L509.3,187.4 L522.0,187.4 L523.7,184.1 L513.2,181.0 L501.0,181.0Z M491.1,178.0 L501.0,181.0 L513.2,181.0 L515.0,177.9 L505.1,175.0 L493.3,175.1Z M483.9,172.3 L493.3,175.1 L505.1,175.0 L507.0,172.2 L497.5,169.5 L486.2,169.6Z M477.2,167.0 L486.2,169.6 L497.5,169.5 L499.5,166.9 L490.5,164.4 L479.6,164.5Z M471.0,162.0 L479.6,164.5 L490.5,164.4 L492.5,162.0 L483.9,159.7 L473.4,159.7Z M465.2,157.4 L473.4,159.7 L483.9,159.7 L486.0,157.4 L477.8,155.2 L467.6,155.2Z" fill="none" stroke="#e4e4e4" stroke-width="1.4"/></g>
<polygon points="86.3,202.8 561.8,200.6 562.3,208.8 86.8,211.1" fill="url(#front)"/>
<line x1="86.3" y1="202.8" x2="561.8" y2="200.6" stroke="#9a9a9a" stroke-width="0.8"/>
<g transform="translate(133,100) rotate(-9.73)"><path d="M-8.0,0 L-8.0,71.0 A8.0,2.4 0 0 0 8.0,71.0 L8.0,0 Z" fill="url(#cyl)"/><ellipse cx="0" cy="0" rx="8.0" ry="2.4" fill="#3a7cbf"/></g>
<g transform="translate(188,95) rotate(-12.09)"><path d="M-9.0,0 L-9.0,71.6 A9.0,2.7 0 0 0 9.0,71.6 L9.0,0 Z" fill="url(#cyl)"/><ellipse cx="0" cy="0" rx="9.0" ry="2.7" fill="#3a7cbf"/></g>
<g transform="translate(215,70) rotate(-4.09)"><path d="M-8.5,0 L-8.5,98.2 A8.5,2.5 0 0 0 8.5,98.2 L8.5,0 Z" fill="url(#cyl)"/><ellipse cx="0" cy="0" rx="8.5" ry="2.5" fill="#3a7cbf"/></g>
<g transform="translate(252,95) rotate(4.90)"><path d="M-8.0,0 L-8.0,70.3 A8.0,2.4 0 0 0 8.0,70.3 L8.0,0 Z" fill="url(#cyl)"/><ellipse cx="0" cy="0" rx="8.0" ry="2.4" fill="#3a7cbf"/></g>
<g transform="translate(283,100) rotate(-13.65)"><path d="M-9.0,0 L-9.0,72.0 A9.0,2.7 0 0 0 9.0,72.0 L9.0,0 Z" fill="url(#cyl)"/><ellipse cx="0" cy="0" rx="9.0" ry="2.7" fill="#3a7cbf"/></g>
<g transform="translate(345,95) rotate(6.52)"><path d="M-8.0,0 L-8.0,70.5 A8.0,2.4 0 0 0 8.0,70.5 L8.0,0 Z" fill="url(#cyl)"/><ellipse cx="0" cy="0" rx="8.0" ry="2.4" fill="#3a7cbf"/></g>
<g transform="translate(372,100) rotate(-6.34)"><path d="M-8.0,0 L-8.0,72.4 A8.0,2.4 0 0 0 8.0,72.4 L8.0,0 Z" fill="url(#cyl)"/><ellipse cx="0" cy="0" rx="8.0" ry="2.4" fill="#3a7cbf"/></g>
<g transform="translate(455,100) rotate(-8.75)"><path d="M-8.0,0 L-8.0,65.8 A8.0,2.4 0 0 0 8.0,65.8 L8.0,0 Z" fill="url(#cyl)"/><ellipse cx="0" cy="0" rx="8.0" ry="2.4" fill="#3a7cbf"/></g>
<g transform="translate(490,100) rotate(0.00)"><path d="M-7.0,0 L-7.0,60.0 A7.0,2.1 0 0 0 7.0,60.0 L7.0,0 Z" fill="url(#cyl)"/><ellipse cx="0" cy="0" rx="7.0" ry="2.1" fill="#3a7cbf"/></g>
<g transform="translate(139,80) rotate(-6.98)"><path d="M-8.5,0 L-8.5,98.7 L8.5,98.7 L8.5,0 Z" fill="url(#prism)"/><path d="M-8.5,0 L-1.3,-3.6 L8.5,-0.8 L1.3,2.8 Z" fill="#3a73b3"/></g>
<g transform="translate(168,53) rotate(-20.19)"><path d="M-8.5,0 L-8.5,92.7 A8.5,2.5 0 0 0 8.5,92.7 L8.5,0 Z" fill="url(#cyl)"/><ellipse cx="0" cy="0" rx="8.5" ry="2.5" fill="#3a7cbf"/></g>
<g transform="translate(238,50) rotate(6.65)"><path d="M-9.0,0 L-9.0,120.8 A9.0,2.7 0 0 0 9.0,120.8 L9.0,0 Z" fill="url(#cyl)"/><ellipse cx="0" cy="0" rx="9.0" ry="2.7" fill="#3a7cbf"/></g>
<g transform="translate(264,62) rotate(3.90)"><path d="M-6.5,0 L-6.5,88.2 A6.5,1.9 0 0 0 6.5,88.2 L6.5,0 Z" fill="url(#cyl)"/><ellipse cx="0" cy="0" rx="6.5" ry="1.9" fill="#3a7cbf"/></g>
<g transform="translate(307,60) rotate(-0.84)"><path d="M-8.0,0 L-8.0,68.0 L8.0,68.0 L8.0,0 Z" fill="url(#prism)"/><path d="M-8.0,0 L-1.2,-3.4 L8.0,-0.7 L1.2,2.6 Z" fill="#3a73b3"/></g>
<g transform="translate(338,45) rotate(21.22)"><path d="M-9.5,0 L-9.5,91.2 A9.5,2.9 0 0 0 9.5,91.2 L9.5,0 Z" fill="url(#cyl)"/><ellipse cx="0" cy="0" rx="9.5" ry="2.9" fill="#3a7cbf"/></g>
<g transform="translate(337,62) rotate(-8.40)"><path d="M-8.0,0 L-8.0,89.0 A8.0,2.4 0 0 0 8.0,89.0 L8.0,0 Z" fill="url(#cyl)"/><ellipse cx="0" cy="0" rx="8.0" ry="2.4" fill="#3a7cbf"/></g>
<g transform="translate(389,50) rotate(0.48)"><path d="M-9.5,0 L-9.5,120.0 A9.5,2.9 0 0 0 9.5,120.0 L9.5,0 Z" fill="url(#cyl)"/><ellipse cx="0" cy="0" rx="9.5" ry="2.9" fill="#3a7cbf"/></g>
<g transform="translate(400,89) rotate(1.41)"><path d="M-8.0,0 L-8.0,81.0 L8.0,81.0 L8.0,0 Z" fill="url(#prism)"/><path d="M-8.0,0 L-1.2,-3.4 L8.0,-0.7 L1.2,2.6 Z" fill="#3a73b3"/></g>
<g transform="translate(471,73) rotate(-3.32)"><path d="M-6.5,0 L-6.5,69.1 A6.5,1.9 0 0 0 6.5,69.1 L6.5,0 Z" fill="url(#cyl)"/><ellipse cx="0" cy="0" rx="6.5" ry="1.9" fill="#3a7cbf"/></g>
<g transform="translate(502,60) rotate(-1.43)"><path d="M-8.5,0 L-8.5,80.0 A8.5,2.5 0 0 0 8.5,80.0 L8.5,0 Z" fill="url(#cyl)"/><ellipse cx="0" cy="0" rx="8.5" ry="2.5" fill="#3a7cbf"/></g>
<g transform="translate(434,48) rotate(0.47)"><path d="M-8.5,0 L-8.5,123.0 A8.5,2.5 0 0 0 8.5,123.0 L8.5,0 Z" fill="url(#cyl)"/><ellipse cx="0" cy="0" rx="8.5" ry="2.5" fill="#3a7cbf"/></g>
<g transform="translate(210,40) rotate(-1.91)"><path d="M-9.5,0 L-9.5,30.0 L9.5,30.0 L9.5,0 Z" fill="url(#prism)"/><path d="M-9.5,0 L-1.4,-4.0 L9.5,-0.9 L1.4,3.1 Z" fill="#3a73b3"/></g>
<g transform="translate(402,66) rotate(-32.68)"><path d="M-9.0,0 L-9.0,125.9 A9.0,2.7 0 0 0 9.0,125.9 L9.0,0 Z" fill="url(#cyl)"/><ellipse cx="0" cy="0" rx="9.0" ry="2.7" fill="#3a7cbf"/></g>
<g transform="translate(410,44) rotate(-11.16)"><path d="M-8.5,0 L-8.5,77.5 A8.5,2.5 0 0 0 8.5,77.5 L8.5,0 Z" fill="url(#cyl)"/><ellipse cx="0" cy="0" rx="8.5" ry="2.5" fill="#3a7cbf"/></g>
<g transform="translate(212,53) rotate(18.05)"><path d="M-11.0,0 L-11.0,93.6 L11.0,93.6 L11.0,0 Z" fill="url(#prism)"/><path d="M-11.0,0 L-1.6,-4.6 L11.0,-1.0 L1.6,3.6 Z" fill="#3a73b3"/></g>
<g transform="translate(157.5,63) rotate(-4.40)"><path d="M-8.0,0 L-8.0,117.3 A8.0,2.4 0 0 0 8.0,117.3 L8.0,0 Z" fill="url(#cyl)"/><ellipse cx="0" cy="0" rx="8.0" ry="2.4" fill="#3a7cbf"/></g>
<g transform="translate(277,52) rotate(2.27)"><path d="M-9.0,0 L-9.0,126.1 A9.0,2.7 0 0 0 9.0,126.1 L9.0,0 Z" fill="url(#cyl)"/><ellipse cx="0" cy="0" rx="9.0" ry="2.7" fill="#3a7cbf"/></g>
<g transform="translate(296,90) rotate(-25.91)"><path d="M-10.0,0 L-10.0,77.8 A10.0,3.0 0 0 0 10.0,77.8 L10.0,0 Z" fill="url(#cyl)"/><ellipse cx="0" cy="0" rx="10.0" ry="3.0" fill="#3a7cbf"/></g>
<g transform="translate(450,62) rotate(-14.31)"><path d="M-8.0,0 L-8.0,101.1 A8.0,2.4 0 0 0 8.0,101.1 L8.0,0 Z" fill="url(#cyl)"/><ellipse cx="0" cy="0" rx="8.0" ry="2.4" fill="#3a7cbf"/></g>
<g transform="translate(504,88) rotate(-8.53)"><path d="M-8.0,0 L-8.0,80.9 L8.0,80.9 L8.0,0 Z" fill="url(#prism)"/><path d="M-8.0,0 L-1.2,-3.4 L8.0,-0.7 L1.2,2.6 Z" fill="#3a73b3"/></g>
<g transform="translate(429,65) rotate(0.57)"><path d="M-9.0,0 L-9.0,100.0 L9.0,100.0 L9.0,0 Z" fill="url(#prism)"/><path d="M-9.0,0 L-1.3,-3.8 L9.0,-0.8 L1.3,3.0 Z" fill="#3a73b3"/></g>
<g transform="translate(374,63) rotate(-25.97)"><path d="M-10.0,0 L-10.0,130.1 A10.0,3.0 0 0 0 10.0,130.1 L10.0,0 Z" fill="url(#cyl)"/><ellipse cx="0" cy="0" rx="10.0" ry="3.0" fill="#3a7cbf"/></g>
<g transform="translate(119,71) rotate(-3.75)"><path d="M-11.0,0 L-11.0,122.3 A11.0,3.3 0 0 0 11.0,122.3 L11.0,0 Z" fill="url(#cyl)"/><ellipse cx="0" cy="0" rx="11.0" ry="3.3" fill="#3a7cbf"/></g>
<g transform="translate(172,89) rotate(-19.89)"><path d="M-10.5,0 L-10.5,100.0 A10.5,3.1 0 0 0 10.5,100.0 L10.5,0 Z" fill="url(#cyl)"/><ellipse cx="0" cy="0" rx="10.5" ry="3.1" fill="#3a7cbf"/></g>
<g transform="translate(272,92) rotate(17.70)"><path d="M-10.5,0 L-10.5,98.7 A10.5,3.1 0 0 0 10.5,98.7 L10.5,0 Z" fill="url(#cyl)"/><ellipse cx="0" cy="0" rx="10.5" ry="3.1" fill="#3a7cbf"/></g>
<g transform="translate(322.5,71) rotate(0.00)"><path d="M-8.5,0 L-8.5,113.0 A8.5,2.5 0 0 0 8.5,113.0 L8.5,0 Z" fill="url(#cyl)"/><ellipse cx="0" cy="0" rx="8.5" ry="2.5" fill="#3a7cbf"/></g>
<g transform="translate(360,53) rotate(0.65)"><path d="M-10.0,0 L-10.0,132.0 A10.0,3.0 0 0 0 10.0,132.0 L10.0,0 Z" fill="url(#cyl)"/><ellipse cx="0" cy="0" rx="10.0" ry="3.0" fill="#3a7cbf"/></g>
<g transform="translate(481,54) rotate(-5.62)"><path d="M-11.0,0 L-11.0,132.6 A11.0,3.3 0 0 0 11.0,132.6 L11.0,0 Z" fill="url(#cyl)"/><ellipse cx="0" cy="0" rx="11.0" ry="3.3" fill="#3a7cbf"/></g>
<line x1="99.5" y1="90" x2="104.5" y2="175" stroke="#000" stroke-width="2"/>
<polygon points="98.4,71.5 92.8,94.6 104.2,94.6" fill="#000"/>
<polygon points="105.8,193 100,170 111.6,170" fill="#000"/>
<line x1="157" y1="40.4" x2="176" y2="40.4" stroke="#7d5228" stroke-width="2.5"/>
<polygon points="199.3,40.4 174,34 174,46.8" fill="#7d5228"/>
<line x1="244" y1="40.4" x2="263" y2="40.4" stroke="#7d5228" stroke-width="2.5"/>
<polygon points="221.5,40.4 246,34 246,46.8" fill="#7d5228"/>
<line x1="360" y1="30.8" x2="393" y2="30.8" stroke="#1d7a47" stroke-width="2.6"/>
<polygon points="339.8,30.8 365.3,24.6 365.3,37.2" fill="#1d7a47"/>
<polygon points="413.3,30.8 387.8,24.6 387.8,37.2" fill="#1d7a47"/>
<line x1="339.8" y1="30.8" x2="339.8" y2="40.5" stroke="#444" stroke-width="1"/>
<line x1="413.3" y1="30.8" x2="413.3" y2="42.8" stroke="#444" stroke-width="1"/>
<line x1="445" y1="184.4" x2="470" y2="184.4" stroke="#9a2a2a" stroke-width="2.5"/>
<polygon points="487,184.4 467,178.3 467,190.5" fill="#c0393b" stroke="#7a1f1f" stroke-width="0.7"/>
<line x1="530" y1="184.4" x2="550.3" y2="184.4" stroke="#9a2a2a" stroke-width="2.5"/>
<polygon points="510,184.4 532.5,178.3 532.5,190.5" fill="#c0393b" stroke="#7a1f1f" stroke-width="0.7"/>
<text x="14.5" y="25.8" font-size="42">a</text>
<line x1="78" y1="228.6" x2="93.8" y2="228.6" stroke="#7a5530" stroke-width="2"/>
<text x="96.4" y="236.6" font-size="25" fill="#7a5530">Top Diameter (T)</text>
<line x1="78" y1="257.1" x2="93.8" y2="257.1" stroke="#b3363e" stroke-width="2"/>
<text x="96.5" y="265.3" font-size="25" fill="#b3363e">Bottom Diameter (B)</text>
<line x1="346.7" y1="227.6" x2="362.5" y2="227.6" stroke="#000" stroke-width="2"/>
<text x="366" y="236.6" font-size="25" fill="#000">Length</text>
<line x1="346.7" y1="256.9" x2="362.5" y2="256.9" stroke="#1f7a4d" stroke-width="2"/>
<text x="366" y="265.3" font-size="25" fill="#1f7a4d">Inter-Pillar Distance</text>
<text x="17.00" y="332.50" font-size="41" fill="#000" text-anchor="start" >b</text>
<line x1="89.80" y1="333.30" x2="89.80" y2="728.00" stroke="#000" stroke-width="2.6" />
<line x1="88.80" y1="334.30" x2="577.30" y2="334.30" stroke="#000" stroke-width="2" />
<line x1="88.80" y1="727.00" x2="577.30" y2="727.00" stroke="#000" stroke-width="2.4" />
<line x1="577.30" y1="333.30" x2="577.30" y2="728.00" stroke="#217a4f" stroke-width="2.2" />
<line x1="89.80" y1="707.70" x2="96.80" y2="707.70" stroke="#000" stroke-width="2" />
<text transform="translate(83.50,721.00) scale(0.985,1.08)" font-size="22" fill="#000" text-anchor="end" >0</text>
<line x1="89.80" y1="668.30" x2="96.80" y2="668.30" stroke="#000" stroke-width="2" />
<text transform="translate(83.50,681.60) scale(0.985,1.08)" font-size="22" fill="#000" text-anchor="end" >200</text>
<line x1="89.80" y1="628.90" x2="96.80" y2="628.90" stroke="#000" stroke-width="2" />
<text transform="translate(83.50,642.20) scale(0.985,1.08)" font-size="22" fill="#000" text-anchor="end" >400</text>
<line x1="89.80" y1="589.50" x2="96.80" y2="589.50" stroke="#000" stroke-width="2" />
<text transform="translate(83.50,602.80) scale(0.985,1.08)" font-size="22" fill="#000" text-anchor="end" >600</text>
<line x1="89.80" y1="550.10" x2="96.80" y2="550.10" stroke="#000" stroke-width="2" />
<text transform="translate(83.50,563.40) scale(0.985,1.08)" font-size="22" fill="#000" text-anchor="end" >800</text>
<line x1="89.80" y1="510.70" x2="96.80" y2="510.70" stroke="#000" stroke-width="2" />
<text transform="translate(83.50,524.00) scale(0.985,1.08)" font-size="22" fill="#000" text-anchor="end" >1000</text>
<line x1="89.80" y1="471.30" x2="96.80" y2="471.30" stroke="#000" stroke-width="2" />
<text transform="translate(83.50,484.60) scale(0.985,1.08)" font-size="22" fill="#000" text-anchor="end" >1200</text>
<line x1="89.80" y1="431.90" x2="96.80" y2="431.90" stroke="#000" stroke-width="2" />
<text transform="translate(83.50,445.20) scale(0.985,1.08)" font-size="22" fill="#000" text-anchor="end" >1400</text>
<line x1="89.80" y1="392.50" x2="96.80" y2="392.50" stroke="#000" stroke-width="2" />
<text transform="translate(83.50,405.80) scale(0.985,1.08)" font-size="22" fill="#000" text-anchor="end" >1600</text>
<line x1="89.80" y1="353.10" x2="96.80" y2="353.10" stroke="#000" stroke-width="2" />
<text transform="translate(83.50,366.40) scale(0.985,1.08)" font-size="22" fill="#000" text-anchor="end" >1800</text>
<text transform="translate(587.30,735.10) scale(0.985,1.08)" font-size="22" fill="#217a4f" text-anchor="start" >0</text>
<line x1="570.30" y1="675.50" x2="577.30" y2="675.50" stroke="#217a4f" stroke-width="2" />
<text transform="translate(587.30,682.50) scale(0.985,1.08)" font-size="22" fill="#217a4f" text-anchor="start" >200</text>
<line x1="570.30" y1="622.90" x2="577.30" y2="622.90" stroke="#217a4f" stroke-width="2" />
<text transform="translate(587.30,629.90) scale(0.985,1.08)" font-size="22" fill="#217a4f" text-anchor="start" >400</text>
<line x1="570.30" y1="570.30" x2="577.30" y2="570.30" stroke="#217a4f" stroke-width="2" />
<text transform="translate(587.30,577.30) scale(0.985,1.08)" font-size="22" fill="#217a4f" text-anchor="start" >600</text>
<line x1="570.30" y1="517.70" x2="577.30" y2="517.70" stroke="#217a4f" stroke-width="2" />
<text transform="translate(587.30,524.70) scale(0.985,1.08)" font-size="22" fill="#217a4f" text-anchor="start" >800</text>
<line x1="570.30" y1="465.10" x2="577.30" y2="465.10" stroke="#217a4f" stroke-width="2" />
<text transform="translate(587.30,472.10) scale(0.985,1.08)" font-size="22" fill="#217a4f" text-anchor="start" >1000</text>
<line x1="570.30" y1="412.50" x2="577.30" y2="412.50" stroke="#217a4f" stroke-width="2" />
<text transform="translate(587.30,419.50) scale(0.985,1.08)" font-size="22" fill="#217a4f" text-anchor="start" >1200</text>
<line x1="570.30" y1="359.90" x2="577.30" y2="359.90" stroke="#217a4f" stroke-width="2" />
<text transform="translate(587.30,366.90) scale(0.985,1.08)" font-size="22" fill="#217a4f" text-anchor="start" >1400</text>
<line x1="138.00" y1="727.00" x2="138.00" y2="720.00" stroke="#000" stroke-width="2" />
<text transform="translate(138.70,753.30) scale(0.985,1.08)" font-size="22" fill="#000" text-anchor="middle" >3.0</text>
<line x1="235.75" y1="727.00" x2="235.75" y2="720.00" stroke="#000" stroke-width="2" />
<text transform="translate(236.45,753.30) scale(0.985,1.08)" font-size="22" fill="#000" text-anchor="middle" >3.5</text>
<line x1="333.50" y1="727.00" x2="333.50" y2="720.00" stroke="#000" stroke-width="2" />
<text transform="translate(334.20,753.30) scale(0.985,1.08)" font-size="22" fill="#000" text-anchor="middle" >4.0</text>
<line x1="431.25" y1="727.00" x2="431.25" y2="720.00" stroke="#000" stroke-width="2" />
<text transform="translate(431.95,753.30) scale(0.985,1.08)" font-size="22" fill="#000" text-anchor="middle" >4.5</text>
<line x1="529.00" y1="727.00" x2="529.00" y2="720.00" stroke="#000" stroke-width="2" />
<text transform="translate(529.70,753.30) scale(0.985,1.08)" font-size="22" fill="#000" text-anchor="middle" >5.0</text>
<text x="333.50" y="792.00" font-size="25.8" fill="#000" text-anchor="middle" >Evaporation Time (min)</text>
<text transform="translate(22.2,530) rotate(-90)" font-size="25.75" text-anchor="middle">Nanopillar Length (nm)</text>
<text transform="translate(657.5,527) rotate(-90)" font-size="25.3" fill="#217a4f" text-anchor="middle">Inter-Pillar Distance (nm)</text>
<line x1="333.50" y1="563.70" x2="333.50" y2="587.60" stroke="#000" stroke-width="2" />
<line x1="328.80" y1="563.70" x2="338.20" y2="563.70" stroke="#000" stroke-width="2" />
<line x1="328.80" y1="587.60" x2="338.20" y2="587.60" stroke="#000" stroke-width="2" />
<line x1="431.25" y1="375.30" x2="431.25" y2="470.80" stroke="#000" stroke-width="2" />
<line x1="426.55" y1="375.30" x2="435.95" y2="375.30" stroke="#000" stroke-width="2" />
<line x1="426.55" y1="470.80" x2="435.95" y2="470.80" stroke="#000" stroke-width="2" />
<line x1="529.00" y1="366.40" x2="529.00" y2="473.00" stroke="#000" stroke-width="2" />
<line x1="524.30" y1="366.40" x2="533.70" y2="366.40" stroke="#000" stroke-width="2" />
<line x1="524.30" y1="473.00" x2="533.70" y2="473.00" stroke="#000" stroke-width="2" />
<line x1="145.69" y1="680.18" x2="228.06" y2="660.62" stroke="#000" stroke-width="2" />
<line x1="241.77" y1="653.68" x2="327.48" y2="580.72" stroke="#000" stroke-width="2" />
<line x1="337.77" y1="568.96" x2="426.98" y2="430.24" stroke="#000" stroke-width="2" />
<line x1="439.14" y1="423.31" x2="521.11" y2="420.29" stroke="#000" stroke-width="2" />
<circle cx="138.00" cy="682.00" r="6.4" fill="#000"/>
<circle cx="235.75" cy="658.80" r="6.4" fill="#000"/>
<circle cx="333.50" cy="575.60" r="6.4" fill="#000"/>
<circle cx="431.25" cy="423.60" r="6.4" fill="#000"/>
<circle cx="529.00" cy="420.00" r="6.4" fill="#000"/>
<line x1="144.94" y1="678.04" x2="228.81" y2="647.06" stroke="#217a4f" stroke-width="2.1" stroke-dasharray="9.8 6.6"/>
<line x1="238.80" y1="637.76" x2="330.45" y2="435.04" stroke="#217a4f" stroke-width="2.1" stroke-dasharray="9.8 6.6"/>
<line x1="340.76" y1="426.85" x2="423.99" y2="410.15" stroke="#217a4f" stroke-width="2.1" stroke-dasharray="9.8 6.6"/>
<line x1="437.90" y1="411.96" x2="522.35" y2="453.34" stroke="#217a4f" stroke-width="2.1" stroke-dasharray="9.8 6.6"/>
<line x1="138.00" y1="661.00" x2="138.00" y2="698.90" stroke="#217a4f" stroke-width="2" />
<line x1="133.30" y1="661.00" x2="142.70" y2="661.00" stroke="#217a4f" stroke-width="2" />
<line x1="133.30" y1="698.90" x2="142.70" y2="698.90" stroke="#217a4f" stroke-width="2" />
<rect x="132.60" y="675.20" width="10.8" height="10.8" fill="#217a4f"/>
<line x1="235.75" y1="601.40" x2="235.75" y2="687.60" stroke="#217a4f" stroke-width="2" />
<line x1="231.05" y1="601.40" x2="240.45" y2="601.40" stroke="#217a4f" stroke-width="2" />
<line x1="231.05" y1="687.60" x2="240.45" y2="687.60" stroke="#217a4f" stroke-width="2" />
<rect x="230.35" y="639.10" width="10.8" height="10.8" fill="#217a4f"/>
<line x1="333.50" y1="364.80" x2="333.50" y2="492.60" stroke="#217a4f" stroke-width="2" />
<line x1="328.80" y1="364.80" x2="338.20" y2="364.80" stroke="#217a4f" stroke-width="2" />
<line x1="328.80" y1="492.60" x2="338.20" y2="492.60" stroke="#217a4f" stroke-width="2" />
<rect x="328.10" y="422.90" width="10.8" height="10.8" fill="#217a4f"/>
<line x1="431.25" y1="368.70" x2="431.25" y2="449.00" stroke="#217a4f" stroke-width="2" />
<line x1="426.55" y1="368.70" x2="435.95" y2="368.70" stroke="#217a4f" stroke-width="2" />
<line x1="426.55" y1="449.00" x2="435.95" y2="449.00" stroke="#217a4f" stroke-width="2" />
<rect x="425.85" y="403.30" width="10.8" height="10.8" fill="#217a4f"/>
<line x1="529.00" y1="395.20" x2="529.00" y2="517.70" stroke="#217a4f" stroke-width="2" />
<line x1="524.30" y1="395.20" x2="533.70" y2="395.20" stroke="#217a4f" stroke-width="2" />
<line x1="524.30" y1="517.70" x2="533.70" y2="517.70" stroke="#217a4f" stroke-width="2" />
<rect x="523.60" y="451.20" width="10.8" height="10.8" fill="#217a4f"/>
<line x1="161.00" y1="586.60" x2="311.40" y2="586.60" stroke="#000" stroke-width="2" />
<polygon points="130.6,586.6 162,578.8 162,594.4" fill="#000"/>
<line x1="293.00" y1="523.10" x2="455.00" y2="523.10" stroke="#217a4f" stroke-width="2" stroke-dasharray="9.5 9"/>
<polygon points="485.5,523.1 454.2,515.6 454.2,530.6" fill="#217a4f"/>
<text x="15.00" y="832.30" font-size="42" fill="#000" text-anchor="start" >c</text>
<text transform="translate(22.2,1032.8) rotate(-90)" font-size="25" text-anchor="middle">Nanopillar Diameter (nm)</text>
<line x1="85.20" y1="838.20" x2="85.20" y2="1205.70" stroke="#000" stroke-width="2.4" />
<line x1="84.20" y1="839.20" x2="574.80" y2="839.20" stroke="#000" stroke-width="2.2" />
<line x1="84.20" y1="1204.70" x2="574.80" y2="1204.70" stroke="#000" stroke-width="2.4" />
<line x1="573.80" y1="838.20" x2="573.80" y2="1205.70" stroke="#000" stroke-width="2.4" />
<text x="75.60" y="1211.80" font-size="22.5" fill="#000" text-anchor="end" >0</text>
<line x1="85.20" y1="1148.51" x2="92.20" y2="1148.51" stroke="#000" stroke-width="2" />
<text x="75.60" y="1155.51" font-size="22.5" fill="#000" text-anchor="end" >50</text>
<line x1="85.20" y1="1092.23" x2="92.20" y2="1092.23" stroke="#000" stroke-width="2" />
<text x="75.60" y="1099.23" font-size="22.5" fill="#000" text-anchor="end" >100</text>
<line x1="85.20" y1="1035.94" x2="92.20" y2="1035.94" stroke="#000" stroke-width="2" />
<text x="75.60" y="1042.94" font-size="22.5" fill="#000" text-anchor="end" >150</text>
<line x1="85.20" y1="979.66" x2="92.20" y2="979.66" stroke="#000" stroke-width="2" />
<text x="75.60" y="986.66" font-size="22.5" fill="#000" text-anchor="end" >200</text>
<line x1="85.20" y1="923.38" x2="92.20" y2="923.38" stroke="#000" stroke-width="2" />
<text x="75.60" y="930.38" font-size="22.5" fill="#000" text-anchor="end" >250</text>
<line x1="85.20" y1="867.09" x2="92.20" y2="867.09" stroke="#000" stroke-width="2" />
<text x="75.60" y="874.09" font-size="22.5" fill="#000" text-anchor="end" >300</text>
<line x1="109.70" y1="856.80" x2="549.08" y2="856.80" stroke="#000" stroke-width="2" />
<text x="329.00" y="862.00" font-size="19" fill="#000" text-anchor="middle" >*</text>
<line x1="256.16" y1="868.50" x2="549.08" y2="868.50" stroke="#000" stroke-width="2" />
<text x="402.60" y="873.70" font-size="19" fill="#000" text-anchor="middle" >***</text>
<line x1="353.80" y1="883.50" x2="549.08" y2="883.50" stroke="#000" stroke-width="2" />
<text x="450.90" y="888.70" font-size="19" fill="#000" text-anchor="middle" >*</text>
<line x1="134.10" y1="898.60" x2="500.26" y2="898.60" stroke="#000" stroke-width="2" />
<text x="318.00" y="903.80" font-size="19" fill="#000" text-anchor="middle" >**</text>
<line x1="207.30" y1="914.70" x2="500.26" y2="914.70" stroke="#000" stroke-width="2" />
<text x="353.70" y="919.90" font-size="19" fill="#000" text-anchor="middle" >***</text>
<line x1="353.80" y1="933.50" x2="500.26" y2="933.50" stroke="#000" stroke-width="2" />
<text x="427.00" y="938.70" font-size="19" fill="#000" text-anchor="middle" >**</text>
<line x1="426.90" y1="945.10" x2="500.26" y2="945.10" stroke="#000" stroke-width="2" />
<text x="464.40" y="950.30" font-size="19" fill="#000" text-anchor="middle" >*</text>
<line x1="134.10" y1="898.60" x2="134.10" y2="1064.80" stroke="#000" stroke-width="2" />
<line x1="110.10" y1="1064.80" x2="158.50" y2="1064.80" stroke="#000" stroke-width="2" />
<line x1="207.30" y1="914.70" x2="207.30" y2="1034.30" stroke="#000" stroke-width="2" />
<line x1="159.00" y1="1034.30" x2="256.00" y2="1034.30" stroke="#000" stroke-width="2" />
<line x1="426.90" y1="945.10" x2="426.90" y2="1015.90" stroke="#000" stroke-width="2" />
<line x1="403.00" y1="1015.90" x2="451.40" y2="1015.90" stroke="#000" stroke-width="2" />
<line x1="109.70" y1="1092.40" x2="109.70" y2="1107.50" stroke="#67679e" stroke-width="2" />
<line x1="109.70" y1="1140.00" x2="109.70" y2="1152.00" stroke="#67679e" stroke-width="2" />
<line x1="106.40" y1="1092.40" x2="113.00" y2="1092.40" stroke="#67679e" stroke-width="2" />
<line x1="106.40" y1="1152.00" x2="113.00" y2="1152.00" stroke="#67679e" stroke-width="2" />
<rect x="89.90" y="1107.50" width="39.60" height="32.50" fill="#fff" stroke="#67679e" stroke-width="2"/>
<line x1="89.90" y1="1132.90" x2="129.50" y2="1132.90" stroke="#67679e" stroke-width="2" />
<rect x="107.50" y="1120.30" width="4.4" height="4.4" fill="none" stroke="#a8a0bc" stroke-width="1"/>
<line x1="158.52" y1="1115.30" x2="158.52" y2="1125.80" stroke="#67679e" stroke-width="2" />
<line x1="158.52" y1="1146.50" x2="158.52" y2="1154.90" stroke="#67679e" stroke-width="2" />
<line x1="155.22" y1="1115.30" x2="161.82" y2="1115.30" stroke="#67679e" stroke-width="2" />
<line x1="155.22" y1="1154.90" x2="161.82" y2="1154.90" stroke="#67679e" stroke-width="2" />
<rect x="138.72" y="1125.80" width="39.60" height="20.70" fill="#f1f0f8" stroke="#67679e" stroke-width="2"/>
<line x1="138.72" y1="1143.60" x2="178.32" y2="1143.60" stroke="#67679e" stroke-width="2" />
<rect x="156.32" y="1132.80" width="4.4" height="4.4" fill="none" stroke="#a8a0bc" stroke-width="1"/>
<line x1="207.34" y1="1069.90" x2="207.34" y2="1083.70" stroke="#28287a" stroke-width="2" />
<line x1="207.34" y1="1133.00" x2="207.34" y2="1139.90" stroke="#28287a" stroke-width="2" />
<line x1="204.04" y1="1069.90" x2="210.64" y2="1069.90" stroke="#28287a" stroke-width="2" />
<line x1="204.04" y1="1139.90" x2="210.64" y2="1139.90" stroke="#28287a" stroke-width="2" />
<rect x="187.54" y="1083.70" width="39.60" height="49.30" fill="#fff" stroke="#28287a" stroke-width="2"/>
<line x1="187.54" y1="1114.00" x2="227.14" y2="1114.00" stroke="#28287a" stroke-width="2" />
<rect x="205.14" y="1102.80" width="4.4" height="4.4" fill="none" stroke="#a8a0bc" stroke-width="1"/>
<line x1="256.16" y1="1122.30" x2="256.16" y2="1126.20" stroke="#28287a" stroke-width="2" />
<line x1="256.16" y1="1147.50" x2="256.16" y2="1152.00" stroke="#28287a" stroke-width="2" />
<line x1="252.86" y1="1122.30" x2="259.46" y2="1122.30" stroke="#28287a" stroke-width="2" />
<line x1="252.86" y1="1152.00" x2="259.46" y2="1152.00" stroke="#28287a" stroke-width="2" />
<rect x="236.36" y="1126.20" width="39.60" height="21.30" fill="#f1f0f8" stroke="#28287a" stroke-width="2"/>
<line x1="236.36" y1="1135.40" x2="275.96" y2="1135.40" stroke="#28287a" stroke-width="2" />
<rect x="253.96" y="1135.50" width="4.4" height="4.4" fill="none" stroke="#a8a0bc" stroke-width="1"/>
<line x1="304.98" y1="1043.50" x2="304.98" y2="1063.50" stroke="#28287a" stroke-width="2" />
<line x1="304.98" y1="1128.30" x2="304.98" y2="1141.80" stroke="#28287a" stroke-width="2" />
<line x1="301.68" y1="1043.50" x2="308.28" y2="1043.50" stroke="#28287a" stroke-width="2" />
<line x1="301.68" y1="1141.80" x2="308.28" y2="1141.80" stroke="#28287a" stroke-width="2" />
<rect x="285.18" y="1063.50" width="39.60" height="64.80" fill="#fff" stroke="#28287a" stroke-width="2"/>
<line x1="285.18" y1="1109.00" x2="324.78" y2="1109.00" stroke="#28287a" stroke-width="2" />
<rect x="302.78" y="1090.60" width="4.4" height="4.4" fill="none" stroke="#a8a0bc" stroke-width="1"/>
<line x1="353.80" y1="1092.00" x2="353.80" y2="1096.00" stroke="#28287a" stroke-width="2" />
<line x1="353.80" y1="1131.30" x2="353.80" y2="1139.00" stroke="#28287a" stroke-width="2" />
<line x1="350.50" y1="1092.00" x2="357.10" y2="1092.00" stroke="#28287a" stroke-width="2" />
<line x1="350.50" y1="1139.00" x2="357.10" y2="1139.00" stroke="#28287a" stroke-width="2" />
<rect x="334.00" y="1096.00" width="39.60" height="35.30" fill="#f1f0f8" stroke="#28287a" stroke-width="2"/>
<line x1="334.00" y1="1121.50" x2="373.60" y2="1121.50" stroke="#28287a" stroke-width="2" />
<rect x="351.60" y="1113.40" width="4.4" height="4.4" fill="none" stroke="#a8a0bc" stroke-width="1"/>
<line x1="402.62" y1="1050.80" x2="402.62" y2="1084.80" stroke="#7a2a86" stroke-width="2" />
<line x1="402.62" y1="1142.00" x2="402.62" y2="1160.10" stroke="#7a2a86" stroke-width="2" />
<line x1="399.32" y1="1050.80" x2="405.92" y2="1050.80" stroke="#7a2a86" stroke-width="2" />
<line x1="399.32" y1="1160.10" x2="405.92" y2="1160.10" stroke="#7a2a86" stroke-width="2" />
<rect x="382.82" y="1084.80" width="39.60" height="57.20" fill="#fff" stroke="#7a2a86" stroke-width="2"/>
<line x1="382.82" y1="1107.90" x2="422.42" y2="1107.90" stroke="#7a2a86" stroke-width="2" />
<rect x="400.42" y="1103.10" width="4.4" height="4.4" fill="none" stroke="#a8a0bc" stroke-width="1"/>
<line x1="451.44" y1="1073.90" x2="451.44" y2="1091.40" stroke="#7a2a86" stroke-width="2" />
<line x1="451.44" y1="1144.60" x2="451.44" y2="1154.20" stroke="#7a2a86" stroke-width="2" />
<line x1="448.14" y1="1073.90" x2="454.74" y2="1073.90" stroke="#7a2a86" stroke-width="2" />
<line x1="448.14" y1="1154.20" x2="454.74" y2="1154.20" stroke="#7a2a86" stroke-width="2" />
<rect x="431.64" y="1091.40" width="39.60" height="53.20" fill="#f4edf3" stroke="#7a2a86" stroke-width="2"/>
<line x1="431.64" y1="1122.80" x2="471.24" y2="1122.80" stroke="#7a2a86" stroke-width="2" />
<rect x="449.24" y="1111.70" width="4.4" height="4.4" fill="none" stroke="#a8a0bc" stroke-width="1"/>
<line x1="500.26" y1="953.10" x2="500.26" y2="996.40" stroke="#7a2a86" stroke-width="2" />
<line x1="500.26" y1="1128.40" x2="500.26" y2="1149.90" stroke="#7a2a86" stroke-width="2" />
<line x1="496.96" y1="953.10" x2="503.56" y2="953.10" stroke="#7a2a86" stroke-width="2" />
<line x1="496.96" y1="1149.90" x2="503.56" y2="1149.90" stroke="#7a2a86" stroke-width="2" />
<rect x="480.46" y="996.40" width="39.60" height="132.00" fill="#fff" stroke="#7a2a86" stroke-width="2"/>
<line x1="480.46" y1="1079.50" x2="520.06" y2="1079.50" stroke="#7a2a86" stroke-width="2" />
<rect x="498.06" y="1049.20" width="4.4" height="4.4" fill="none" stroke="#a8a0bc" stroke-width="1"/>
<line x1="549.08" y1="1037.90" x2="549.08" y2="1056.70" stroke="#6e2060" stroke-width="2" />
<line x1="549.08" y1="1128.70" x2="549.08" y2="1139.00" stroke="#6e2060" stroke-width="2" />
<line x1="545.78" y1="1037.90" x2="552.38" y2="1037.90" stroke="#6e2060" stroke-width="2" />
<line x1="545.78" y1="1139.00" x2="552.38" y2="1139.00" stroke="#6e2060" stroke-width="2" />
<rect x="529.28" y="1056.70" width="39.60" height="72.00" fill="#f4edf3" stroke="#6e2060" stroke-width="2"/>
<line x1="529.28" y1="1101.70" x2="568.88" y2="1101.70" stroke="#6e2060" stroke-width="2" />
<rect x="546.88" y="1085.90" width="4.4" height="4.4" fill="none" stroke="#a8a0bc" stroke-width="1"/>
<text x="109.70" y="1234.20" font-size="26" fill="#000" text-anchor="middle" >B</text>
<text x="158.52" y="1234.20" font-size="26" fill="#000" text-anchor="middle" >T</text>
<text x="207.34" y="1234.20" font-size="26" fill="#000" text-anchor="middle" >B</text>
<text x="256.16" y="1234.20" font-size="26" fill="#000" text-anchor="middle" >T</text>
<text x="304.98" y="1234.20" font-size="26" fill="#000" text-anchor="middle" >B</text>
<text x="353.80" y="1234.20" font-size="26" fill="#000" text-anchor="middle" >T</text>
<text x="402.62" y="1234.20" font-size="26" fill="#000" text-anchor="middle" >B</text>
<text x="451.44" y="1234.20" font-size="26" fill="#000" text-anchor="middle" >T</text>
<text x="500.26" y="1234.20" font-size="26" fill="#000" text-anchor="middle" >B</text>
<text x="549.08" y="1234.20" font-size="26" fill="#000" text-anchor="middle" >T</text>
<line x1="84.50" y1="1246.50" x2="573.50" y2="1246.50" stroke="#000" stroke-width="2.2" />
<text transform="translate(134.11,1272.00) scale(0.985,1.08)" font-size="22" fill="#000" text-anchor="middle" >3.0</text>
<text transform="translate(231.75,1272.00) scale(0.985,1.08)" font-size="22" fill="#000" text-anchor="middle" >3.5</text>
<text transform="translate(329.39,1272.00) scale(0.985,1.08)" font-size="22" fill="#000" text-anchor="middle" >4.0</text>
<text transform="translate(427.03,1272.00) scale(0.985,1.08)" font-size="22" fill="#000" text-anchor="middle" >4.5</text>
<text transform="translate(524.67,1272.00) scale(0.985,1.08)" font-size="22" fill="#000" text-anchor="middle" >5.0</text>
<line x1="84.50" y1="1281.50" x2="573.50" y2="1281.50" stroke="#000" stroke-width="2.2" />
<text x="329.60" y="1311.50" font-size="26" fill="#000" text-anchor="middle" >Evaporation Time (min)</text>
</svg>
</body></html>
